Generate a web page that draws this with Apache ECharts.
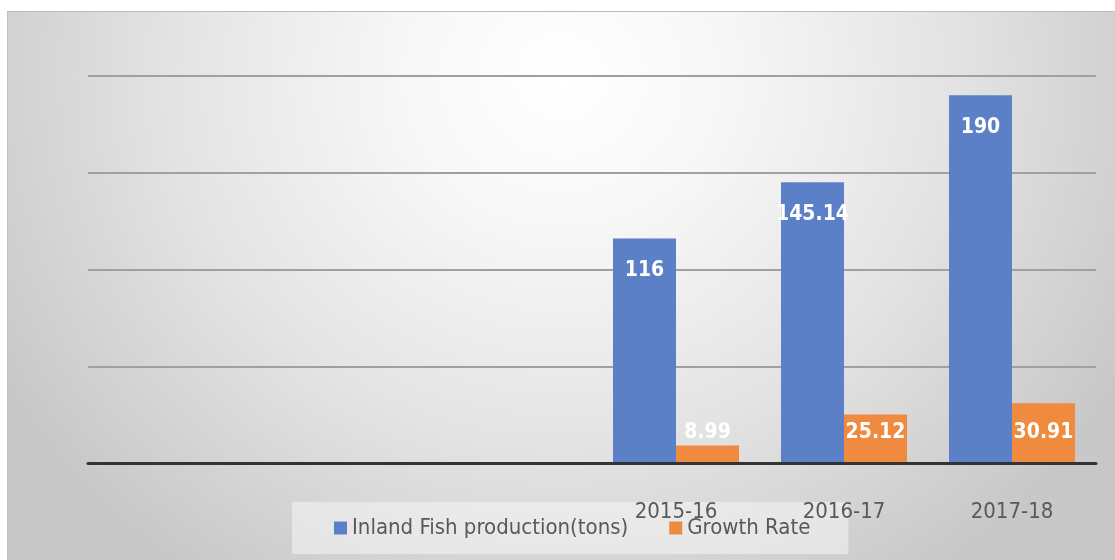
<!DOCTYPE html>
<html>
<head>
<meta charset="utf-8">
<script src="https://cdn.jsdelivr.net/npm/echarts@6/dist/echarts.min.js"></script>
<style>
html,body{margin:0;padding:0;background:#fff;}
#wrap{position:relative;width:1115px;height:560px;background:#fff;}
#bg{position:absolute;left:7px;top:11px;width:1108px;height:549px;
  border-top:1px solid #bdbdbd;border-left:1px solid #c0c0c0;box-sizing:border-box;
  background:radial-gradient(ellipse 58% 110% at 50% 12%, #ffffff 0%, #f7f7f7 25%, #e4e4e4 60%, #c8c8c8 100%);}
#c{position:absolute;left:0;top:0;width:1115px;height:560px;}
</style>
</head>
<body>
<div id="wrap"><div id="bg"></div><div id="c"></div></div>
<script>
var categories = ['', '', '', '2015-16', '2016-17', '2017-18'];
var seriesNames = ['Inland Fish production(tons)', 'Growth Rate'];
var production = [null, null, null, 116, 145.14, 190];
var growthRate = [null, null, null, 8.99, 25.12, 30.91];

var FONT = '"DejaVu Sans Condensed", "Liberation Sans Narrow", "Liberation Sans", Arial, sans-serif';
var chart = echarts.init(document.getElementById('c'));
chart.setOption({
  backgroundColor: 'transparent',
  animation: false,
  grid: {left: 88, right: 19, top: 76, bottom: 97, containLabel: false},
  legend: {
    data: seriesNames,
    left: 292, top: 502, z: 1,
    padding: [15, 38, 15, 42],
    itemWidth: 13, itemHeight: 13, itemGap: 41,
    backgroundColor: 'rgba(245,245,245,0.55)',
    icon: 'rect',
    textStyle: {fontFamily: FONT, fontSize: 22, color: '#595959'}
  },
  xAxis: {
    type: 'category', data: categories, z: 5,
    axisLine: {lineStyle: {color: '#333333', width: 3}},
    axisTick: {show: false},
    axisLabel: {margin: 38, fontFamily: FONT, fontSize: 22, color: '#595959', interval: 0}
  },
  yAxis: {
    type: 'value', min: 0, max: 200, interval: 50,
    axisLabel: {show: false},
    axisLine: {show: false}, axisTick: {show: false},
    splitLine: {lineStyle: {color: '#a0a0a0', width: 2}}
  },
  series: [{
    name: seriesNames[0], type: 'bar', data: production,
    barGap: '0%', barCategoryGap: '25%',
    itemStyle: {color: '#5b80c8'},
    label: {show: true, position: 'insideTop', distance: 22, color: '#ffffff',
      fontFamily: FONT, fontWeight: 'bold', fontSize: 21}
  }, {
    name: seriesNames[1], type: 'bar', data: growthRate,
    itemStyle: {color: '#ef8a3e'},
    label: {show: true, position: 'insideBottom', distance: 20, color: '#ffffff',
      fontFamily: FONT, fontWeight: 'bold', fontSize: 21}
  }]
});
</script>
</body>
</html>
